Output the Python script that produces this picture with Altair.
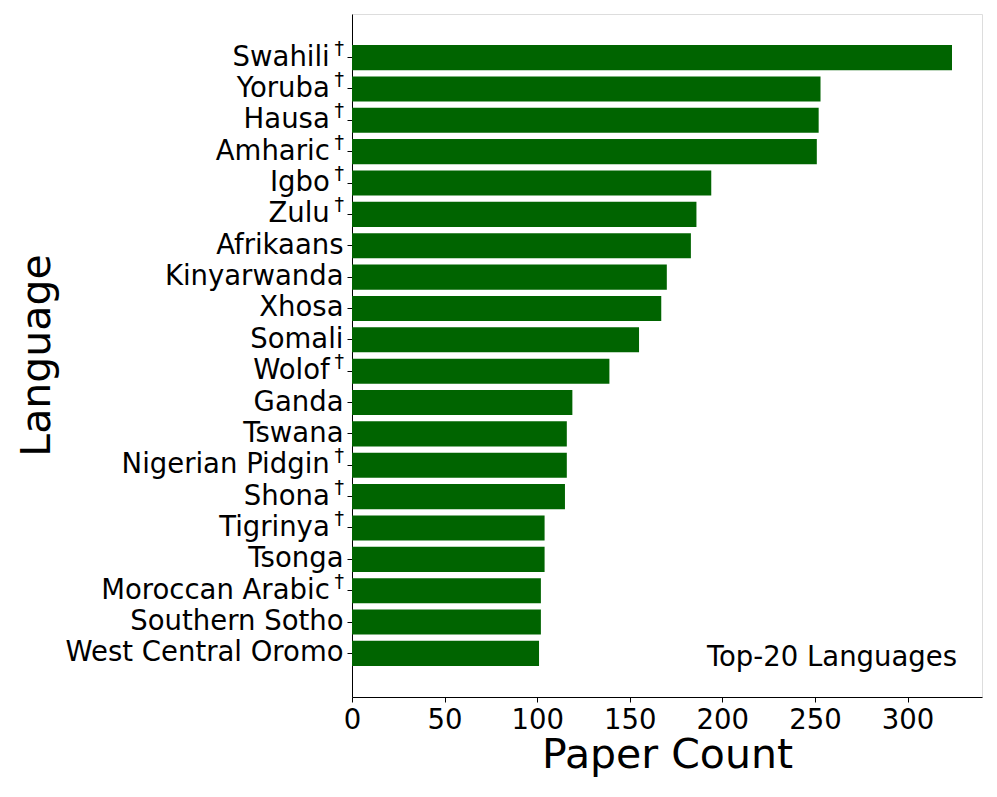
import altair as alt
import pandas as pd

languages = [
    "Swahili†", "Yoruba†", "Hausa†", "Amharic†", "Igbo†", "Zulu†", "Afrikaans",
    "Kinyarwanda", "Xhosa", "Somali", "Wolof†", "Ganda", "Tswana",
    "Nigerian Pidgin†", "Shona†", "Tigrinya†", "Tsonga", "Moroccan Arabic†",
    "Southern Sotho", "West Central Oromo",
]
counts = [324, 253, 252, 251, 194, 186, 183, 170, 167, 155, 139, 119, 116,
          116, 115, 104, 104, 102, 102, 101]
x_ticks = [0, 50, 100, 150, 200, 250, 300]
annotation = "Top-20 Languages"

df = pd.DataFrame({
    "Language": languages,
    "Count": counts,
    "Mark": ["†" if l.endswith("†") else "" for l in languages],
})

FONT = "DejaVu Sans"

bars = alt.Chart(df).mark_bar(color="#006400").encode(
    x=alt.X(
        "Count:Q",
        title="Paper Count",
        scale=alt.Scale(domain=[0, 340.2], nice=False, zero=True),
        axis=alt.Axis(
            values=x_ticks, grid=False, labelFontSize=27.5, titleFontSize=41,
            labelFont=FONT, titleFont=FONT, titleFontWeight="normal",
            labelColor="black", titleColor="black", tickColor="black",
            domainColor="black", tickSize=5, labelPadding=4, titlePadding=2,
            labelFlush=False, labelOverlap=False,
        ),
    ),
    y=alt.Y(
        "Language:N",
        sort=languages,
        title="Language",
        scale=alt.Scale(paddingInner=0.2, paddingOuter=0.99),
        axis=alt.Axis(
            grid=False, labelFontSize=27.5, titleFontSize=41, labelLimit=500,
            labelFont=FONT, titleFont=FONT, titleFontWeight="normal",
            labelColor="black", titleColor="black", tickColor="black",
            domainColor="black", tickSize=5, labelPadding=4,
            labelExpr="replace(datum.label, '†', '\u2002\u200b')",
            titleX=-315, titleY=341, titleAngle=270,
            titleAlign="center", titleBaseline="middle",
        ),
    ),
)

daggers = alt.Chart(df).mark_text(
    align="right", baseline="alphabetic", fontSize=19, font=FONT,
    color="black", dy=-3,
).encode(
    y=alt.Y("Language:N", sort=languages),
    x=alt.value(-8),
    text="Mark:N",
)

note = alt.Chart(pd.DataFrame({"t": [annotation]})).mark_text(
    align="right", baseline="middle", fontSize=27.5, font=FONT, color="black"
).encode(
    text="t:N",
    x=alt.value(605),
    y=alt.value(644),
)

chart = (bars + daggers + note).properties(
    width=630,
    height=683,
    autosize=alt.AutoSizeParams(type="none"),
    padding={"left": 344, "top": 6, "right": 5, "bottom": 85},
).configure_view(stroke="black", strokeWidth=1.2).configure(background="white")

chart.save("out.html", embed_options={"renderer": "svg", "actions": False})
